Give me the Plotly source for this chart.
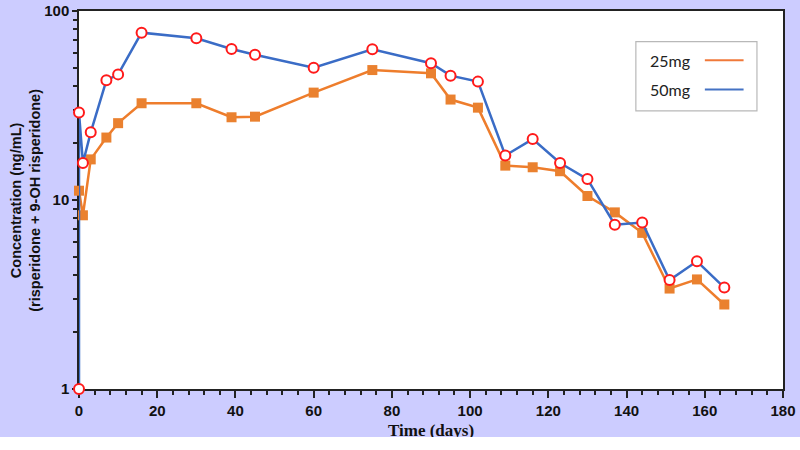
import plotly.graph_objects as go

# ---- data ----
days_25 = [0, 1, 3, 7, 10, 16, 30, 39, 45, 60, 75, 90, 95, 102, 109, 116, 123, 130, 137, 144, 151, 158, 165]
conc_25 = [11.2, 8.3, 16.4, 21.4, 25.5, 32.5, 32.5, 27.4, 27.6, 37.0, 48.7, 46.8, 34.0, 30.8, 15.2, 14.9, 14.2, 10.5, 8.6, 6.7, 3.4, 3.8, 2.8]

days_50 = [0, 0, 1, 3, 7, 10, 16, 30, 39, 45, 60, 75, 90, 95, 102, 109, 116, 123, 130, 137, 144, 151, 158, 165]
conc_50 = [1.0, 29.0, 15.7, 22.8, 43.0, 46.2, 76.8, 71.7, 63.0, 58.7, 50.1, 62.7, 52.9, 45.5, 42.3, 17.2, 21.0, 15.7, 12.9, 7.4, 7.6, 3.77, 4.74, 3.44]

series_names = ["25mg", "50mg"]
x_ticks = [0, 20, 40, 60, 80, 100, 120, 140, 160, 180]
y_ticks = [1, 10, 100]
y_minor = [2, 3, 4, 5, 6, 7, 8, 9, 20, 30, 40, 50, 60, 70, 80, 90]
x_title = "Time (days)"
y_title = ["Concentration (ng/mL)", "(risperidone + 9-OH risperidone)"]

ORANGE = "#ee7d2c"
BLUE = "#3a6cc6"
LAVENDER = "#ccccff"

fig = go.Figure()
fig.add_trace(go.Scatter(
    x=days_25, y=conc_25, mode="lines+markers", name=series_names[0],
    line=dict(color=ORANGE, width=2.5),
    marker=dict(symbol="square", size=10, color="#ea812f"),
    cliponaxis=False, showlegend=False,
))
fig.add_trace(go.Scatter(
    x=days_50, y=conc_50, mode="lines+markers", name=series_names[1],
    line=dict(color=BLUE, width=2.5),
    marker=dict(symbol="circle", size=10, color="white", line=dict(color="#ff1a1a", width=2)),
    cliponaxis=False, showlegend=False,
))

axis_font = dict(family="Liberation Sans, Arial", size=15, color="#111111")

fig.update_xaxes(
    range=[0, 180], tickvals=x_ticks, ticktext=[f"<b>{v}</b>" for v in x_ticks],
    ticks="outside", ticklen=7, tickwidth=1.5,
    tickcolor="#222", showline=True, linecolor="#222", linewidth=1.5, mirror=True,
    showgrid=False, zeroline=False, tickfont=axis_font, layer="below traces",
    minor=dict(ticks="outside", ticklen=4, tickwidth=1.5, tickcolor="#222", dtick=4, showgrid=False),
)
fig.update_yaxes(
    type="log", range=[0, 2], tickvals=y_ticks, ticktext=[f"<b>{v}</b>" for v in y_ticks],
    ticks="outside", ticklen=5, tickwidth=1.5, tickcolor="#222",
    showline=True, linecolor="#222", linewidth=1.5, mirror=True,
    showgrid=False, zeroline=False, tickfont=axis_font, layer="below traces",
    minor=dict(ticks="outside", ticklen=4, tickwidth=1.5, tickcolor="#222", tickvals=y_minor, showgrid=False),
)

# axis titles as annotations (x title sits at the lower edge, as in the reference)
fig.add_annotation(xref="paper", yref="paper", x=0.5, y=-0.080, xanchor="center", yanchor="top",
                   text=f"<b>{x_title}</b>", showarrow=False,
                   font=dict(family="Liberation Serif, Times New Roman", size=17, color="#111"))
fig.add_annotation(xref="paper", yref="paper", x=-0.077, y=0.5, xanchor="center", yanchor="middle",
                   textangle=-90, text="<b>" + "<br>".join(y_title) + "</b>", showarrow=False,
                   font=dict(family="Liberation Sans, Arial", size=14.5, color="#111"))

# manual legend (text left, line sample right)
fig.add_shape(type="rect", xref="paper", yref="paper", x0=0.791, x1=0.963, y0=0.736, y1=0.919,
              line=dict(color="#b8b8b8", width=1.2), fillcolor="white", layer="above")
leg_font = dict(family="Lato", size=16, color="#222")
for name, ypos, col in [(series_names[0], 0.870, "#f0793a"), (series_names[1], 0.792, "#4472c4")]:
    fig.add_annotation(xref="paper", yref="paper", x=0.808, y=ypos, text=name, showarrow=False,
                       xanchor="left", yanchor="middle", font=leg_font)
    fig.add_shape(type="line", xref="paper", yref="paper", x0=0.889, x1=0.944, y0=ypos, y1=ypos,
                  line=dict(color=col, width=2), layer="above")

fig.update_layout(
    width=800, height=437,
    margin=dict(l=79, r=17, t=11, b=48, autoexpand=False),
    paper_bgcolor=LAVENDER, plot_bgcolor="white",
    showlegend=False,
)

fig.write_html("out.html")
